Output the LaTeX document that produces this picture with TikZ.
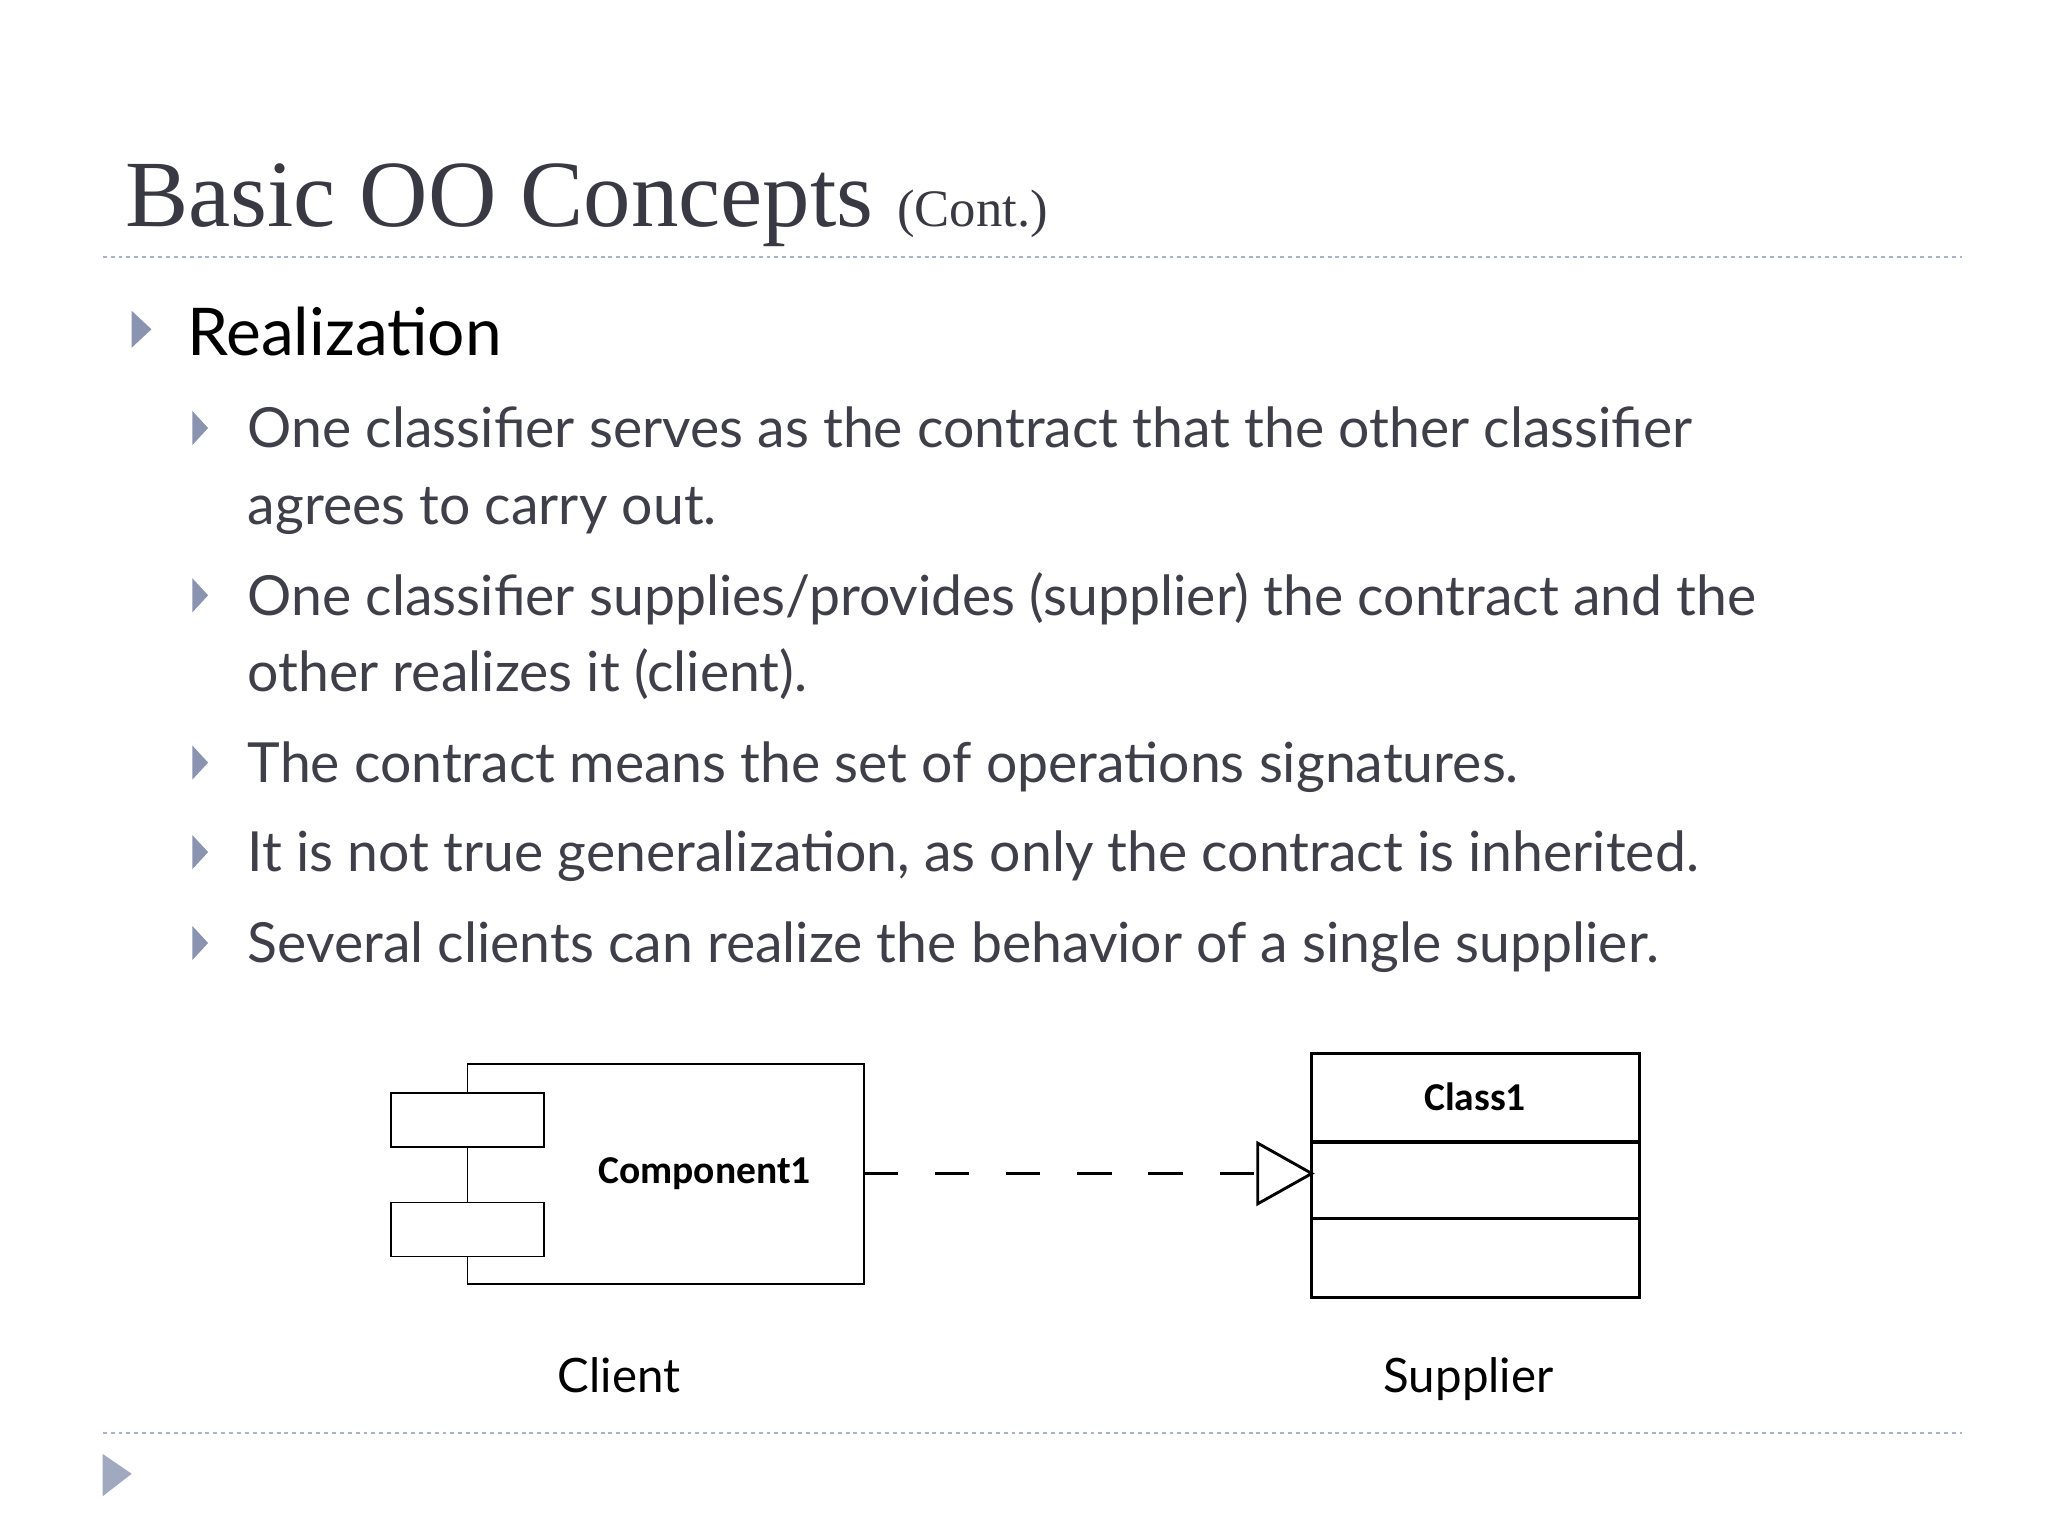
\documentclass[tikz,border=0pt]{standalone}
\usepackage{fontspec}
\setmainfont{Liberation Serif}
\newfontfamily\gill{Lato}
\newfontfamily\calfnt{Carlito}
\definecolor{txt}{HTML}{3F3F4A}
\definecolor{bul}{HTML}{8A93B0}
\definecolor{dl}{HTML}{A9B4C8}
\begin{document}
\begin{tikzpicture}[x=1pt,y=-1pt,
  sub/.style={anchor=base west,inner sep=0,text=txt,font=\gill\fontsize{42}{50}\selectfont},
  tri/.style={fill=bul,draw=none},
  lab/.style={font=\calfnt\bfseries\fontsize{30}{36}\selectfont,inner sep=0},
  captxt/.style={anchor=base,inner sep=0,font=\gill\fontsize{36}{42}\selectfont}]
\fill[white] (0,0) rectangle (1555,1166);
\useasboundingbox (0,0) rectangle (1555,1166);
\node[anchor=base west,inner sep=0,text=txt!90!black,font=\fontsize{72}{80}\selectfont] (title) at (95,172) {Basic OO Concepts {\fontsize{40}{44}\selectfont(Cont.)}};
\draw[dl,dashed,line width=1.2] (78,195) -- (1490,195);
\fill[tri] (100,236) -- (115,250) -- (100,264) -- cycle;
\node[anchor=base west,inner sep=0,font=\gill\fontsize{50}{58}\selectfont] (real) at (142,270) {Realization};
\foreach \y in {325,452,579,647,716}{\fill[tri] (146,\y-13) -- (158,\y) -- (146,\y+13) -- cycle;}
\node[sub] (l1) at (188,340) {One classifier serves as the contract that the other classifier};
\node[sub] (l2) at (188,398) {agrees to carry out.};
\node[sub] (l3) at (188,467) {One classifier supplies/provides (supplier) the contract and the};
\node[sub] (l4) at (188,525) {other realizes it (client).};
\node[sub] (l5) at (188,594) {The contract means the set of operations signatures.};
\node[sub] (l6) at (188,662) {It is not true generalization, as only the contract is inherited.};
\node[sub] (l7) at (188,731) {Several clients can realize the behavior of a single supplier.};
% component
\draw[line width=1.3] (355,808) rectangle (656,975);
\draw[line width=1.3,fill=white] (297,830) rectangle (413,871);
\draw[line width=1.3,fill=white] (297,913) rectangle (413,954);
\node[lab] (comp) at (535,891) {Component1};
\coordinate (cE) at (656,891);
% class
\draw[line width=2.5] (996,800) rectangle (1245,985);
\draw[line width=2.5] (996,867) -- (1245,867);
\draw[line width=2.5] (996,925) -- (1245,925);
\node[lab] (cls) at (1120,833) {Class1};
\coordinate (tip) at (996,891);
\coordinate (tb) at (955,891);
\draw[line width=2.5,dash pattern=on 26pt off 28pt] (cE) -- (tb);
\draw[line width=2.2,fill=white] (955,868) -- (tip) -- (955,914) -- cycle;
\node[captxt] (client) at (470,1057) {Client};
\node[captxt] (supp) at (1115,1057) {Supplier};
\draw[dl,dashed,line width=1.2] (78,1088) -- (1490,1088);
\fill[bul!80] (78,1104) -- (100,1119) -- (78,1136) -- cycle;
\end{tikzpicture}
\end{document}
